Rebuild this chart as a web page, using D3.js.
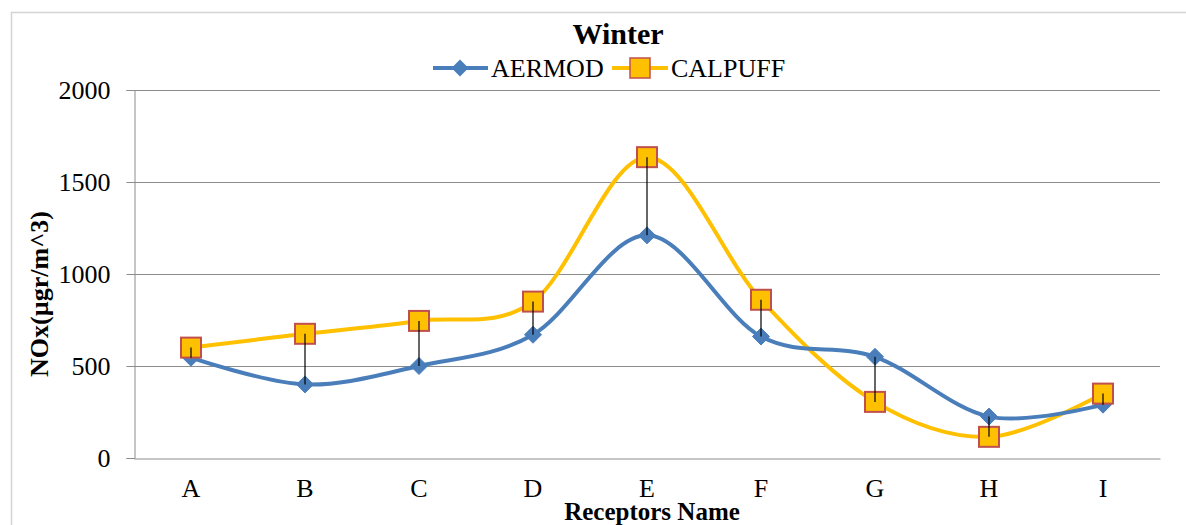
<!DOCTYPE html>
<html>
<head>
<meta charset="utf-8">
<script src="https://cdn.jsdelivr.net/npm/d3@7/dist/d3.min.js"></script>
<style>
  html, body { margin: 0; padding: 0; background: #fff; }
  svg { display: block; }
  svg text { font-family: "Liberation Serif", "Times New Roman", "DejaVu Serif", serif !important; fill: #000; }
</style>
</head>
<body>
<svg id="chart" width="1186" height="525"></svg>
<script>
const categories = ["A", "B", "C", "D", "E", "F", "G", "H", "I"];
const aermod = [545, 400, 500, 670, 1210, 660, 550, 225, 290];
const calpuff = [600, 675, 745, 850, 1635, 860, 305, 115, 350];
const yTicks = [0, 500, 1000, 1500, 2000];
const seriesNames = ["AERMOD", "CALPUFF"];
const titleText = "Winter";
const xTitle = "Receptors Name";
const yTitle = "NOx(µgr/m^3)";

const W = 1186, H = 525;
const m = { left: 134, right: 1160, top: 90, bottom: 458 };
const blue = "#4A7EBB", yellow = "#FFC000", squareStroke = "#C0504D", grid = "#8C8C8C";

const svg = d3.select("#chart");

// outer border
svg.append("rect").attr("x", 11.5).attr("y", 12.5).attr("width", 1200).attr("height", 600)
  .attr("fill", "none").attr("stroke", "#D4D4D4").attr("stroke-width", 1.5);

const x = d3.scaleBand().domain(categories).range([m.left, m.right]);
const xc = c => x(c) + x.bandwidth() / 2;
const y = d3.scaleLinear().domain([0, 2000]).range([m.bottom, m.top]);

// gridlines
svg.append("g").selectAll("line").data(yTicks.filter(d => d > 0)).join("line")
  .attr("x1", m.left).attr("x2", m.right)
  .attr("y1", d => Math.round(y(d)) + 0.5).attr("y2", d => Math.round(y(d)) + 0.5)
  .attr("stroke", grid).attr("stroke-width", 1);

// y axis
const yAxis = d3.axisLeft(y).tickValues(yTicks).tickSize(8).tickPadding(16).tickFormat(d3.format("d"));
const gy = svg.append("g").attr("transform", `translate(${m.left + 0.5},0)`).call(yAxis)
  .attr("font-family", "Liberation Serif").attr("font-size", 26);
gy.select(".domain").attr("stroke", grid);
gy.selectAll(".tick line").attr("stroke", grid);
gy.selectAll(".tick text").attr("fill", "#000");

// x axis
const xAxis = d3.axisBottom(x).tickSize(0).tickPadding(20);
const gx = svg.append("g").attr("transform", `translate(0,${m.bottom + 0.5})`).call(xAxis)
  .attr("font-family", "Liberation Serif").attr("font-size", 26);
gx.select(".domain").attr("stroke", grid);
gx.selectAll(".tick text").attr("fill", "#000");

// lines
const line = d3.line().x((d, i) => xc(categories[i])).y(d => y(d)).curve(d3.curveCardinal.tension(0));
svg.append("path").datum(calpuff).attr("d", line).attr("fill", "none")
  .attr("stroke", yellow).attr("stroke-width", 4);
svg.append("path").datum(aermod).attr("d", line).attr("fill", "none")
  .attr("stroke", blue).attr("stroke-width", 4);

// markers
const diamond = s => `M0,${-s}L${s},0L0,${s}L${-s},0Z`;
svg.append("g").selectAll("path").data(aermod).join("path")
  .attr("transform", (d, i) => `translate(${xc(categories[i])},${y(d)})`)
  .attr("d", diamond(8.5)).attr("fill", blue).attr("stroke", blue).attr("stroke-width", 1);
svg.append("g").selectAll("rect").data(calpuff).join("rect")
  .attr("x", (d, i) => xc(categories[i]) - 10).attr("y", d => y(d) - 10)
  .attr("width", 20).attr("height", 20)
  .attr("fill", yellow).attr("stroke", squareStroke).attr("stroke-width", 2);

// high-low lines
svg.append("g").selectAll("line").data(categories).join("line")
  .attr("x1", c => xc(c)).attr("x2", c => xc(c))
  .attr("y1", (c, i) => y(aermod[i])).attr("y2", (c, i) => y(calpuff[i]))
  .attr("stroke", "#000").attr("stroke-width", 1.2);

// title
svg.append("text").attr("x", 618).attr("y", 44).attr("text-anchor", "middle")
  .attr("font-size", 30).attr("font-weight", "bold").text(titleText);

// legend
const lg = svg.append("g");
lg.append("line").attr("x1", 433).attr("x2", 488).attr("y1", 68).attr("y2", 68)
  .attr("stroke", blue).attr("stroke-width", 4);
lg.append("path").attr("transform", "translate(460,68)").attr("d", diamond(8.5)).attr("fill", blue);
lg.append("text").attr("x", 491).attr("y", 77).attr("font-size", 26).text(seriesNames[0]);
lg.append("line").attr("x1", 612).attr("x2", 668).attr("y1", 68).attr("y2", 68)
  .attr("stroke", yellow).attr("stroke-width", 4);
lg.append("rect").attr("x", 630).attr("y", 58).attr("width", 20).attr("height", 20)
  .attr("fill", yellow).attr("stroke", squareStroke).attr("stroke-width", 1.5);
lg.append("text").attr("x", 671).attr("y", 77).attr("font-size", 26).text(seriesNames[1]);

// axis titles
svg.append("text").attr("x", 652).attr("y", 520).attr("text-anchor", "middle")
  .attr("font-size", 25).attr("font-weight", "bold").text(xTitle);
svg.append("text").attr("transform", "translate(48,294) rotate(-90)").attr("text-anchor", "middle")
  .attr("font-size", 26).attr("font-weight", "bold").text(yTitle);
</script>
</body>
</html>
